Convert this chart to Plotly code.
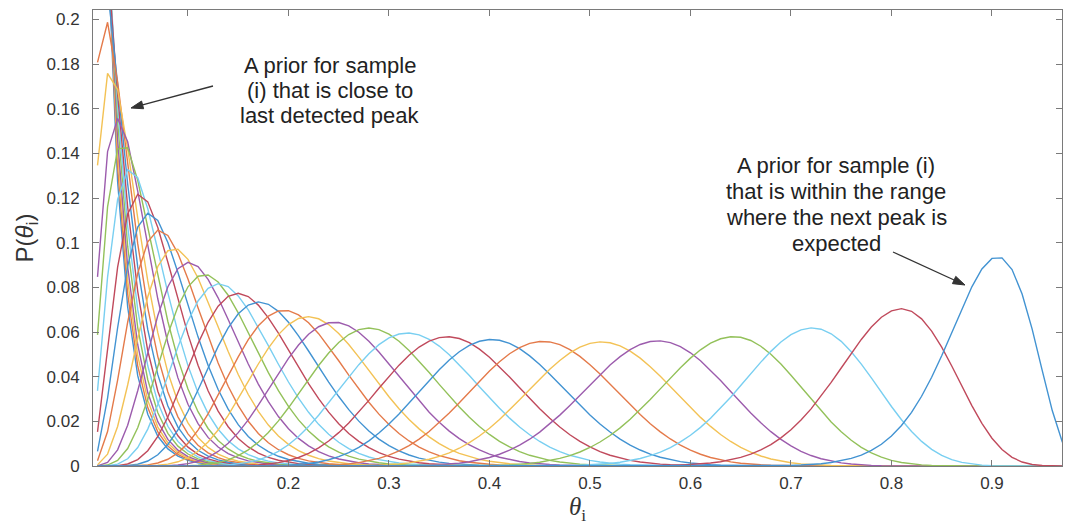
import numpy as np
import plotly.graph_objects as go

# ---- data ----
# mean of each prior (plot order: left-most curve first, right-most last)
prior_mean = [0.014, 0.016, 0.018, 0.020, 0.023, 0.026, 0.029, 0.033,
              0.037, 0.042, 0.049, 0.054, 0.061, 0.070, 0.079, 0.089,
              0.103, 0.117, 0.132, 0.146, 0.164, 0.184, 0.208, 0.231,
              0.256, 0.289, 0.326, 0.364, 0.406, 0.455, 0.511, 0.565,
              0.637, 0.712, 0.797, 0.889]
concentration = 49          # a + b of every beta prior (fitted to peak heights)
theta_grid = [round(0.01 * k, 2) for k in range(1, 100)]   # sample positions 0.01..0.99

x_ticks = [0.1, 0.2, 0.3, 0.4, 0.5, 0.6, 0.7, 0.8, 0.9]
y_ticks = [0, 0.02, 0.04, 0.06, 0.08, 0.1, 0.12, 0.14, 0.16, 0.18, 0.2]
y_tick_text = ["0", "0.02", "0.04", "0.06", "0.08", "0.1", "0.12", "0.14", "0.16", "0.18", "0.2"]

left_note = ["A prior for sample", "(i) that is close to", "last detected peak"]
right_note = ["A prior for sample (i)", "that is within the range",
              "where the next peak is", "expected"]

colors = ["#4293D2", "#E47A4A", "#F3C255", "#9C5CAD", "#93C15A", "#79CFF1", "#C04A5C"]

# ---- layout geometry (pixels) ----
W, H = 1065, 526
ML, MR, MT, MB = 93, 3, 10, 60
XR = [0.0055, 0.9697]
YR = [0, 0.2042]
PW, PH = W - ML - MR, H - MT - MB


def px2data(px, py):
    return (XR[0] + (px - ML) / PW * (XR[1] - XR[0]),
            YR[0] + (H - MB - py) / PH * (YR[1] - YR[0]))


th = np.array(theta_grid)
fig = go.Figure()
for i, mu in enumerate(prior_mean):
    a = concentration * mu
    b = concentration * (1 - mu)
    w = th ** (a - 1) * (1 - th) ** (b - 1)
    p = w / w.sum()
    fig.add_trace(go.Scatter(x=th, y=p, mode="lines",
                             line=dict(color=colors[i % 7], width=1.4),
                             showlegend=False, hoverinfo="skip"))

axis_col = "#7a7a7a"
tick_font = dict(family="Liberation Sans, Arial", size=17, color="#333333")
fig.update_xaxes(range=XR, tickvals=x_ticks,
                 ticktext=[str(v) for v in x_ticks],
                 ticks="inside", ticklen=6, tickcolor=axis_col, ticklabelstandoff=2,
                 showline=True, linecolor=axis_col, linewidth=1, mirror="allticks",
                 showgrid=False, zeroline=False, tickfont=tick_font,
                 title=dict(text="<i>θ</i><sub>i</sub>", standoff=4,
                            font=dict(family="Liberation Serif, Times New Roman", size=25, color="#333333")))
fig.update_yaxes(range=YR, tickvals=y_ticks, ticktext=y_tick_text,
                 ticks="inside", ticklen=6, tickcolor=axis_col, ticklabelstandoff=9,
                 showline=True, linecolor=axis_col, linewidth=1, mirror="allticks",
                 showgrid=False, zeroline=False, tickfont=tick_font,
                 title=dict(text="P(<i>θ</i><sub>i</sub>)", standoff=6,
                            font=dict(family="Liberation Sans, Arial", size=24, color="#333333")))

txt_font = dict(family="Liberation Sans, Arial", size=22, color="#222222")
for j, line in enumerate(left_note):
    fig.add_annotation(x=(330 - ML) / PW, y=1 - (65 + 25 * j - MT) / PH,
                       xref="paper", yref="paper", showarrow=False, text=line,
                       font=txt_font, xanchor="center", yanchor="middle")
for j, line in enumerate(right_note):
    fig.add_annotation(x=(836 - ML) / PW, y=1 - (165 + 26.3 * j - MT) / PH,
                       xref="paper", yref="paper", showarrow=False, text=line,
                       font=txt_font, xanchor="center", yanchor="middle")

# arrows drawn as shapes: shaft + filled head
arrow_col = "#333333"
for (tx, ty), (hx, hy) in [((213, 86), (131, 108)), ((893, 252), (965, 285))]:
    dx, dy = hx - tx, hy - ty
    L = (dx * dx + dy * dy) ** 0.5
    ux, uy = dx / L, dy / L
    hl, hw = 12, 4
    bx, by = hx - ux * hl, hy - uy * hl
    p1 = px2data(bx - uy * hw, by + ux * hw)
    p2 = px2data(bx + uy * hw, by - ux * hw)
    tip = px2data(hx, hy)
    t0 = px2data(tx, ty)
    b0 = px2data(bx, by)
    fig.add_shape(type="line", x0=t0[0], y0=t0[1], x1=b0[0], y1=b0[1],
                  xref="x", yref="y", line=dict(color=arrow_col, width=1.3))
    fig.add_shape(type="path", xref="x", yref="y",
                  path=f"M {tip[0]} {tip[1]} L {p1[0]} {p1[1]} L {p2[0]} {p2[1]} Z",
                  fillcolor=arrow_col, line=dict(color=arrow_col, width=1))

fig.update_layout(width=W, height=H, margin=dict(l=ML, r=MR, t=MT, b=MB),
                  plot_bgcolor="white", paper_bgcolor="white")
fig.write_html("out.html")
